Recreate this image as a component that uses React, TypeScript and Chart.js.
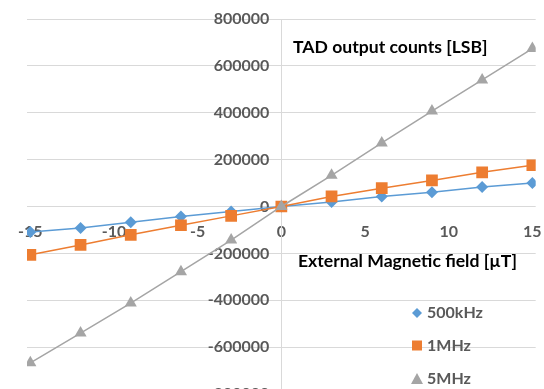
import React, { useEffect, useRef } from 'react';
import { Chart, registerables } from 'chart.js';

Chart.register(...registerables);

const fieldUT = [-15, -12, -9, -6, -3, 0, 3, 6, 9, 12, 15];
const counts500kHz = [-109000, -92000, -67000, -43000, -21000, 0, 19000, 43000, 61000, 83000, 100000];
const counts1MHz = [-206000, -164000, -121000, -80000, -40000, 0, 43000, 78000, 111000, 146000, 176000];
const counts5MHz = [-667000, -540000, -412000, -278000, -143000, 0, 133000, 271000, 407000, 540000, 674000];

const seriesLabels = ['500kHz', '1MHz', '5MHz'];
const seriesColors = ['#5B9BD5', '#ED7D31', '#A5A5A5'];
const yTitle = 'TAD output counts [LSB]';
const xTitle = 'External Magnetic field [µT]';

const FONT_FAMILY = 'Lato, "Open Sans", sans-serif';
const LABEL_COLOR = '#595959';

const toPoints = (ys: number[]) => fieldUT.map((x, i) => ({ x, y: ys[i] }));

const overlayPlugin = {
  id: 'overlay',
  afterDraw(chart: any) {
    const ctx = chart.ctx as CanvasRenderingContext2D;
    ctx.save();
    ctx.textBaseline = 'middle';
    ctx.textAlign = 'left';
    ctx.fillStyle = '#000000';
    ctx.font = `bold 17.6px ${FONT_FAMILY}`;
    ctx.fillText(yTitle, 293, 47);
    ctx.fillText(xTitle, 298, 261);

    ctx.font = `bold 16px ${FONT_FAMILY}`;
    const rows = [313, 345.5, 379];
    seriesLabels.forEach((label, i) => {
      const cx = 417;
      const cy = rows[i];
      ctx.fillStyle = seriesColors[i];
      ctx.beginPath();
      if (i === 0) {
        ctx.moveTo(cx, cy - 5);
        ctx.lineTo(cx + 5, cy);
        ctx.lineTo(cx, cy + 5);
        ctx.lineTo(cx - 5, cy);
        ctx.closePath();
      } else if (i === 1) {
        ctx.rect(cx - 5, cy - 5, 10, 10);
      } else {
        ctx.moveTo(cx, cy - 6);
        ctx.lineTo(cx + 6, cy + 5);
        ctx.lineTo(cx - 6, cy + 5);
        ctx.closePath();
      }
      ctx.fill();
      ctx.fillStyle = LABEL_COLOR;
      ctx.fillText(label, 427, cy);
    });
    ctx.restore();
  },
};

const zeroPadding = (s: any) => {
  s.paddingLeft = 0;
  s.paddingRight = 0;
  s.paddingTop = 0;
  s.paddingBottom = 0;
};

export default function App() {
  const canvasRef = useRef<HTMLCanvasElement | null>(null);

  useEffect(() => {
    if (!canvasRef.current) return;
    const tickFont = { family: FONT_FAMILY, size: 16, weight: 'bold' as const };
    const chart = new Chart(canvasRef.current, {
      type: 'line',
      data: {
        datasets: [
          {
            label: seriesLabels[0],
            data: toPoints(counts500kHz),
            borderColor: seriesColors[0],
            backgroundColor: seriesColors[0],
            pointStyle: 'rectRot',
            pointRadius: 6,
            pointBorderWidth: 0,
            borderWidth: 1.5,
            order: 2,
          },
          {
            label: seriesLabels[1],
            data: toPoints(counts1MHz),
            borderColor: seriesColors[1],
            backgroundColor: seriesColors[1],
            pointStyle: 'rect',
            pointRadius: 8.3,
            pointBorderWidth: 0,
            borderWidth: 1.5,
            order: 1,
          },
          {
            label: seriesLabels[2],
            data: toPoints(counts5MHz),
            borderColor: seriesColors[2],
            backgroundColor: seriesColors[2],
            pointStyle: 'triangle',
            pointRadius: 7,
            pointBorderWidth: 0,
            borderWidth: 1.5,
            order: 0,
          },
        ],
      },
      options: {
        responsive: false,
        animation: false,
        layout: { padding: { left: 27, right: 7, top: 19, bottom: 10 } },
        plugins: {
          legend: { display: false },
          tooltip: { enabled: false },
        },
        scales: {
          x: {
            type: 'linear',
            min: -15.2,
            max: 15.2,
            position: { y: 0 } as any,
            grid: { display: false, drawTicks: false },
            border: { display: false },
            ticks: {
              stepSize: 5,
              includeBounds: false,
              autoSkip: false,
              maxRotation: 0,
              padding: 16,
              color: LABEL_COLOR,
              font: tickFont,
              callback: (v: any) => String(v),
            },
            afterFit: zeroPadding,
          },
          y: {
            type: 'linear',
            min: -800000,
            max: 800000,
            position: { x: 0 } as any,
            grid: { color: '#D9D9D9', lineWidth: 1, drawTicks: false },
            border: { display: true, color: '#D9D9D9', width: 1 },
            ticks: {
              stepSize: 200000,
              padding: 17,
              color: LABEL_COLOR,
              font: tickFont,
              callback: (v: any) => String(v) + '\u2002\u2005',
            },
            afterFit: zeroPadding,
          },
        },
      },
      plugins: [overlayPlugin],
    });
    return () => chart.destroy();
  }, []);

  return (
    <div
      style={{
        position: 'fixed',
        left: 0,
        top: 0,
        width: 544,
        height: 389,
        overflow: 'hidden',
        background: '#ffffff',
      }}
    >
      <canvas ref={canvasRef} width={544} height={404} style={{ display: 'block' }} />
    </div>
  );
}
